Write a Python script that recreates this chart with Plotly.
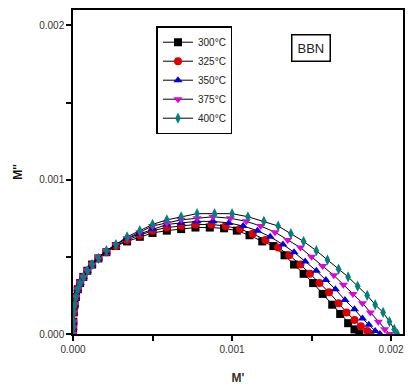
import plotly.graph_objects as go

# values in units of 1e-3
x300 = [0, 0.001, 0.002, 0.005, 0.010, 0.018, 0.03, 0.045, 0.065, 0.09, 0.12, 0.16, 0.21, 0.27, 0.34, 0.42, 0.50, 0.59, 0.68, 0.77, 0.86, 0.95, 1.03, 1.11, 1.19, 1.26, 1.33, 1.39, 1.45, 1.51, 1.57, 1.63, 1.68, 1.73, 1.77, 1.80]
y300 = [0, 0.04, 0.08, 0.14, 0.19, 0.24, 0.29, 0.33, 0.37, 0.41, 0.45, 0.49, 0.53, 0.57, 0.60, 0.63, 0.655, 0.67, 0.68, 0.69, 0.69, 0.685, 0.67, 0.64, 0.60, 0.57, 0.51, 0.45, 0.39, 0.33, 0.26, 0.19, 0.13, 0.07, 0.03, 0.0]

x325 = [0, 0.001, 0.002, 0.005, 0.010, 0.018, 0.03, 0.045, 0.065, 0.09, 0.12, 0.16, 0.21, 0.27, 0.34, 0.42, 0.50, 0.59, 0.68, 0.77, 0.87, 0.96, 1.05, 1.13, 1.21, 1.29, 1.36, 1.43, 1.49, 1.55, 1.61, 1.67, 1.72, 1.77, 1.81, 1.85, 1.87]
y325 = [0, 0.04, 0.08, 0.14, 0.19, 0.24, 0.29, 0.33, 0.37, 0.41, 0.45, 0.49, 0.53, 0.57, 0.61, 0.64, 0.67, 0.69, 0.70, 0.71, 0.71, 0.70, 0.68, 0.65, 0.61, 0.56, 0.51, 0.45, 0.39, 0.33, 0.27, 0.20, 0.14, 0.09, 0.05, 0.02, 0.0]

x350 = [0, 0.001, 0.002, 0.005, 0.010, 0.018, 0.03, 0.045, 0.065, 0.09, 0.12, 0.16, 0.21, 0.27, 0.34, 0.42, 0.50, 0.59, 0.68, 0.78, 0.88, 0.98, 1.07, 1.16, 1.24, 1.32, 1.39, 1.46, 1.53, 1.59, 1.65, 1.71, 1.77, 1.82, 1.86, 1.90, 1.93]
y350 = [0, 0.04, 0.08, 0.14, 0.19, 0.24, 0.29, 0.33, 0.37, 0.41, 0.45, 0.49, 0.53, 0.58, 0.62, 0.65, 0.68, 0.71, 0.72, 0.73, 0.73, 0.72, 0.70, 0.67, 0.63, 0.58, 0.53, 0.47, 0.41, 0.35, 0.29, 0.22, 0.16, 0.10, 0.06, 0.02, 0.0]

x375 = [0, 0.001, 0.002, 0.005, 0.010, 0.018, 0.03, 0.045, 0.065, 0.09, 0.12, 0.16, 0.21, 0.27, 0.34, 0.42, 0.50, 0.59, 0.68, 0.78, 0.88, 0.99, 1.09, 1.18, 1.27, 1.35, 1.43, 1.50, 1.57, 1.64, 1.70, 1.76, 1.82, 1.87, 1.92, 1.96, 1.99]
y375 = [0, 0.04, 0.08, 0.14, 0.19, 0.24, 0.29, 0.33, 0.37, 0.41, 0.45, 0.50, 0.54, 0.58, 0.62, 0.66, 0.70, 0.72, 0.74, 0.75, 0.76, 0.75, 0.73, 0.70, 0.66, 0.61, 0.56, 0.50, 0.44, 0.38, 0.32, 0.26, 0.20, 0.14, 0.08, 0.03, 0.0]

x400 = [0, 0.001, 0.002, 0.005, 0.010, 0.018, 0.03, 0.045, 0.065, 0.09, 0.12, 0.16, 0.21, 0.27, 0.34, 0.42, 0.50, 0.59, 0.68, 0.78, 0.89, 1.00, 1.10, 1.20, 1.29, 1.37, 1.45, 1.53, 1.60, 1.67, 1.73, 1.79, 1.85, 1.90, 1.95, 1.99, 2.02, 2.04]
y400 = [0, 0.04, 0.08, 0.14, 0.19, 0.24, 0.29, 0.33, 0.37, 0.41, 0.45, 0.49, 0.54, 0.58, 0.63, 0.67, 0.71, 0.74, 0.76, 0.78, 0.78, 0.78, 0.76, 0.73, 0.70, 0.65, 0.60, 0.54, 0.48, 0.42, 0.37, 0.31, 0.25, 0.19, 0.14, 0.08, 0.03, 0.0]

labels = ["300°C", "325°C", "350°C", "375°C", "400°C"]
colors = ["#000000", "#e00000", "#0000e0", "#e000e0", "#008080"]
symbols = ["square", "circle", "triangle-up", "triangle-down", "diamond-tall"]
series = [(x300, y300), (x325, y325), (x350, y350), (x375, y375), (x400, y400)]

fig = go.Figure()
for (xs, ys), lab, col, sym in zip(series, labels, colors, symbols):
    fig.add_trace(go.Scatter(
        x=[v * 1e-3 for v in xs], y=[v * 1e-3 for v in ys],
        mode="lines+markers", name=lab,
        line=dict(color="black", width=1),
        marker=dict(color=col, symbol=sym, size=8, line=dict(width=0)),
    ))

axis_common = dict(
    showline=True, linecolor="black", linewidth=1.5, mirror=True,
    ticks="outside", ticklen=5, tickwidth=1.5, tickcolor="black",
    showgrid=False, zeroline=False, tickformat=".3f",
    tickfont=dict(family="Liberation Sans", size=10, color="#333"),
    minor=dict(ticks="outside", ticklen=5, tickwidth=1.5, tickcolor="black", dtick=0.0005, showgrid=False),
)
fig.update_xaxes(range=[0, 0.002075], dtick=0.001, tick0=0,
                 title=dict(text="<b>M'</b>", font=dict(family="Liberation Sans", size=12, color="#333"), standoff=20),
                 **axis_common)
fig.update_yaxes(range=[0, 0.0021], dtick=0.001, tick0=0,
                 title=dict(text="<b>M''</b>", font=dict(family="Liberation Sans", size=12, color="#111"), standoff=14),
                 **axis_common)

fig.add_annotation(x=0.72, y=0.883, xref="paper", yref="paper", text="BBN",
                   xanchor="center", yanchor="middle",
                   showarrow=False, bordercolor="black", borderwidth=1.5, borderpad=5,
                   font=dict(family="Liberation Sans", size=13, color="#222"))

fig.update_layout(
    width=409, height=390,
    margin=dict(l=73, r=4, t=10, b=56),
    plot_bgcolor="white", paper_bgcolor="white",
    legend=dict(x=0.253, y=0.95, xanchor="left", yanchor="top",
                bordercolor="black", borderwidth=1.5, bgcolor="white",
                font=dict(family="Liberation Sans", size=10, color="#222"),
                itemwidth=30, tracegroupgap=0),
)

fig.write_html("out.html")
